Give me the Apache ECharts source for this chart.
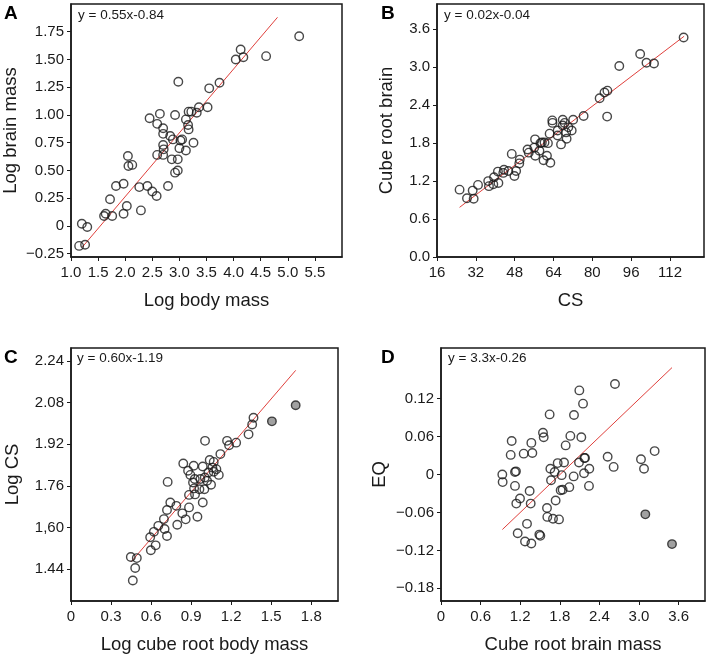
<!DOCTYPE html>
<html><head><meta charset="utf-8">
<script src="https://cdn.jsdelivr.net/npm/echarts@6/dist/echarts.min.js"></script>
<style>html,body{margin:0;padding:0;background:#fff}#c{width:709px;height:656px}</style>
</head><body><div id="c"></div>
<script>
// ---------- Panel A ----------
const aX = [1.15,1.26,1.20,1.30,1.61,1.64,1.72,1.76,1.83,1.97,1.97,2.03,2.05,2.06,2.13,2.26,2.29,2.41,2.45,2.50,2.58,2.59,2.59,2.64,2.70,2.70,2.70,2.70,2.71,2.79,2.83,2.86,2.88,2.92,2.92,2.97,2.97,2.98,3.00,3.02,3.05,3.12,3.12,3.16,3.17,3.17,3.22,3.26,3.32,3.36,3.52,3.55,3.74,4.04,4.13,4.18,4.60,5.21];
const aY = [-0.18,-0.17,0.02,-0.01,0.09,0.11,0.24,0.09,0.36,0.38,0.11,0.18,0.63,0.54,0.55,0.35,0.14,0.36,0.97,0.31,0.27,0.92,0.64,1.01,0.73,0.88,0.83,0.64,0.69,0.36,0.81,0.60,0.78,1.00,0.48,0.50,0.60,1.30,0.70,0.77,0.78,0.68,0.96,0.91,0.87,1.03,1.03,0.75,1.02,1.07,1.07,1.24,1.29,1.50,1.59,1.52,1.53,1.71];
const aLineX = [1.21, 4.81];
const aLineY = [-0.19, 1.88];
const aXTicks = [1.0,1.5,2.0,2.5,3.0,3.5,4.0,4.5,5.0,5.5];
const aXLabels = ['1.0','1.5','2.0','2.5','3.0','3.5','4.0','4.5','5.0','5.5'];
const aYTicks = [-0.25,0,0.25,0.5,0.75,1.0,1.25,1.5,1.75];
const aYLabels = ['\u22120.25','0','0.25','0.50','0.75','1.00','1.25','1.50','1.75'];

// ---------- Panel B ----------
const bX = [25.3,28.35,30.7,31.1,32.9,37.1,37.4,39.2,39.5,41.1,41.3,43.3,43.6,45.4,46.8,47.9,48.6,49.9,50.1,53.3,53.8,56.1,56.4,56.5,58.2,58.6,59.2,59.9,60.3,61.3,61.7,62.4,62.7,63.5,63.6,65.7,65.7,67.1,67.8,67.8,68.6,69.2,69.4,70.1,71.5,72.1,76.4,83.0,85.0,86.2,86.1,91.1,99.7,102.3,105.4,117.6];
const bY = [1.065,0.93,1.05,0.92,1.14,1.20,1.12,1.15,1.26,1.35,1.17,1.33,1.38,1.36,1.63,1.28,1.36,1.48,1.54,1.70,1.65,1.73,1.86,1.60,1.68,1.80,1.81,1.53,1.81,1.60,1.80,1.95,1.49,2.16,2.12,2.00,1.92,1.78,2.17,2.08,2.12,1.97,1.87,2.05,2.00,2.17,2.23,2.51,2.60,2.63,2.22,3.02,3.21,3.07,3.06,3.47];
const bLineX = [25.3, 117.8];
const bLineY = [0.785, 3.49];
const bXTicks = [16,32,48,64,80,96,112];
const bXLabels = ['16','32','48','64','80','96','112'];
const bYTicks = [0,0.6,1.2,1.8,2.4,3.0,3.6];
const bYLabels = ['0.0','0.6','1.2','1.8','2.4','3.0','3.6'];

// ---------- Panel C ----------
const cX = [0.448,0.493,0.481,0.463,0.598,0.593,0.621,0.634,0.654,0.696,0.701,0.719,0.719,0.724,0.744,0.789,0.796,0.834,0.859,0.841,0.884,0.884,0.877,0.894,0.914,0.919,0.922,0.929,0.927,0.947,0.962,0.969,0.987,0.987,0.999,1.004,1.002,1.019,1.029,1.039,1.049,1.059,1.069,1.069,1.089,1.107,1.119,1.169,1.184,1.237,1.330,1.357,1.367];
const cY = [1.486,1.482,1.444,1.396,1.512,1.562,1.583,1.531,1.606,1.632,1.594,1.567,1.667,1.775,1.696,1.683,1.610,1.654,1.631,1.846,1.677,1.725,1.818,1.802,1.773,1.837,1.750,1.727,1.786,1.641,1.747,1.786,1.696,1.834,1.747,1.933,1.792,1.779,1.811,1.859,1.764,1.830,1.852,1.814,1.824,1.802,1.882,1.933,1.916,1.926,1.958,1.996,2.022];
const cGrayX = [1.505, 1.683];
const cGrayY = [2.008, 2.070];
const cLineX = [0.451, 1.683];
const cLineY = [1.468, 2.204];
const cXTicks = [0,0.3,0.6,0.9,1.2,1.5,1.8];
const cXLabels = ['0','0.3','0.6','0.9','1.2','1.5','1.8'];
const cYTicks = [1.44,1.60,1.76,1.92,2.08,2.24];
const cYLabels = ['1.44','1,60','1.76','1.92','2.08','2.24'];

// ---------- Panel D ----------
const dX = [0.929,0.934,1.056,1.071,1.121,1.121,1.136,1.141,1.162,1.197,1.253,1.273,1.303,1.343,1.359,1.369,1.384,1.369,1.490,1.505,1.545,1.556,1.606,1.611,1.646,1.657,1.667,1.697,1.722,1.737,1.768,1.788,1.813,1.828,1.843,1.864,1.889,1.944,1.960,2.010,2.015,2.096,2.091,2.126,2.152,2.167,2.172,2.182,2.247,2.242,2.525,2.616,2.636,3.030,3.076,3.237];
const dY = [0.000,-0.012,0.031,0.053,-0.018,0.004,0.005,-0.046,-0.093,-0.038,0.033,-0.106,-0.078,-0.026,-0.046,0.050,0.034,-0.109,-0.095,-0.097,0.066,0.059,-0.053,-0.067,0.095,0.009,-0.009,-0.070,0.004,-0.041,0.018,-0.071,-0.025,-0.001,-0.024,0.019,0.046,-0.020,0.061,-0.003,0.094,0.133,0.019,0.059,0.112,0.002,0.026,0.026,0.009,-0.018,0.028,0.012,0.143,0.024,0.009,0.037];
const dGrayX = [3.096, 3.50];
const dGrayY = [-0.063, -0.110];
const dLineX = [0.93, 3.50];
const dLineY = [-0.087, 0.169];
const dXTicks = [0,0.6,1.2,1.8,2.4,3.0,3.6];
const dXLabels = ['0','0.6','1.2','1.8','2.4','3.0','3.6'];
const dYTicks = [-0.18,-0.12,-0.06,0,0.06,0.12];
const dYLabels = ['\u22120.18','\u22120.12','\u22120.06','0','0.06','0.12'];

const panelLetters = ['A','B','C','D'];
const equations = ['y = 0.55x-0.84','y = 0.02x-0.04','y = 0.60x-1.19','y = 3.3x-0.26'];
const xNames = ['Log body mass','CS','Log cube root body mass','Cube root brain mass'];
const yNames = ['Log brain mass','Cube root brain','Log CS','EQ'];

// ---------- build ----------
const FONT = '"Liberation Sans", Arial, sans-serif';
const INK = '#1a1a1a';
const zip = (xs, ys) => xs.map((x, i) => [x, ys[i]]);
const fmt = (ticks, labels) => v => {
  for (let i = 0; i < ticks.length; i++) if (Math.abs(ticks[i] - v) < 1e-9) return labels[i];
  return '';
};

const grids = [
  {left: 71, top: 4, width: 271, height: 253},
  {left: 437, top: 4, width: 267, height: 253},
  {left: 71, top: 348, width: 267, height: 253},
  {left: 441, top: 348, width: 264, height: 253}
].map(g => Object.assign(g, {show: true, borderColor: INK, borderWidth: 1.5, backgroundColor: 'transparent'}));

const xRanges = [[1.0, 6.0], [16, 126], [0, 2.0], [0, 4.0]];
const yRanges = [[-0.28, 2.0], [0, 4.0], [1.317, 2.29], [-0.2, 0.2]];
const xT = [[aXTicks, aXLabels], [bXTicks, bXLabels], [cXTicks, cXLabels], [dXTicks, dXLabels]];
const yT = [[aYTicks, aYLabels], [bYTicks, bYLabels], [cYTicks, cYLabels], [dYTicks, dYLabels]];
const yGaps = [51, 41, 49, 52];

function axisCommon(ticks, labels, margin) {
  return {
    axisLine: {show: true, onZero: false, lineStyle: {color: INK, width: 1.5}},
    axisTick: {show: true, inside: false, length: 4, lineStyle: {color: INK, width: 1}, customValues: ticks},
    axisLabel: {show: true, margin: margin, customValues: ticks, formatter: fmt(ticks, labels), color: INK, fontSize: 15, fontFamily: FONT},
    splitLine: {show: false}
  };
}

const xAxes = [0,1,2,3].map(i => Object.assign({
  type: 'value', gridIndex: i, min: xRanges[i][0], max: xRanges[i][1],
  name: xNames[i], nameLocation: 'middle', nameGap: 34,
  nameTextStyle: {fontSize: 18.5, color: INK, fontFamily: FONT}
}, axisCommon(xT[i][0], xT[i][1], 8)));

const yAxes = [0,1,2,3].map(i => Object.assign({
  type: 'value', gridIndex: i, min: yRanges[i][0], max: yRanges[i][1],
  name: yNames[i], nameLocation: 'middle', nameGap: yGaps[i],
  nameTextStyle: {fontSize: 18.5, color: INK, fontFamily: FONT}
}, axisCommon(yT[i][0], yT[i][1], 7)));

const openStyle = {color: 'rgba(0,0,0,0)', borderColor: INK, borderWidth: 1.4};
const grayStyle = {color: '#8a8a8a', borderColor: INK, borderWidth: 1.4};
const lineStyle = {color: '#e0403c', width: 1};

const pts = [[aX, aY], [bX, bY], [cX, cY], [dX, dY]];
const lines = [[aLineX, aLineY], [bLineX, bLineY], [cLineX, cLineY], [dLineX, dLineY]];
const grays = [null, null, [cGrayX, cGrayY], [dGrayX, dGrayY]];

const series = [];
for (let i = 0; i < 4; i++) {
  series.push({type: 'line', xAxisIndex: i, yAxisIndex: i, data: zip(lines[i][0], lines[i][1]),
    showSymbol: false, symbol: 'none', lineStyle: lineStyle, silent: true, z: 3});
  series.push({type: 'scatter', xAxisIndex: i, yAxisIndex: i, data: zip(pts[i][0], pts[i][1]),
    symbol: 'circle', symbolSize: 8.5, itemStyle: openStyle, silent: true, z: 4});
  if (grays[i]) series.push({type: 'scatter', xAxisIndex: i, yAxisIndex: i, data: zip(grays[i][0], grays[i][1]),
    symbol: 'circle', symbolSize: 8.5, itemStyle: grayStyle, silent: true, z: 4});
}

const letterPos = [[4, 4], [381, 4], [4, 348], [381, 348]];
const eqPos = [[78, 8], [444, 8], [77, 351], [448, 351]];
const graphic = [];
for (let i = 0; i < 4; i++) {
  graphic.push({type: 'text', left: letterPos[i][0], top: letterPos[i][1],
    style: {text: panelLetters[i], font: 'bold 19px ' + FONT, fill: '#000'}});
  graphic.push({type: 'text', left: eqPos[i][0], top: eqPos[i][1],
    style: {text: equations[i], font: '13.5px ' + FONT, fill: INK}});
}

const chart = echarts.init(document.getElementById('c'), null, {renderer: 'canvas'});
chart.setOption({
  animation: false,
  backgroundColor: '#fff',
  grid: grids,
  xAxis: xAxes,
  yAxis: yAxes,
  series: series,
  graphic: graphic
});
</script>
</body></html>
